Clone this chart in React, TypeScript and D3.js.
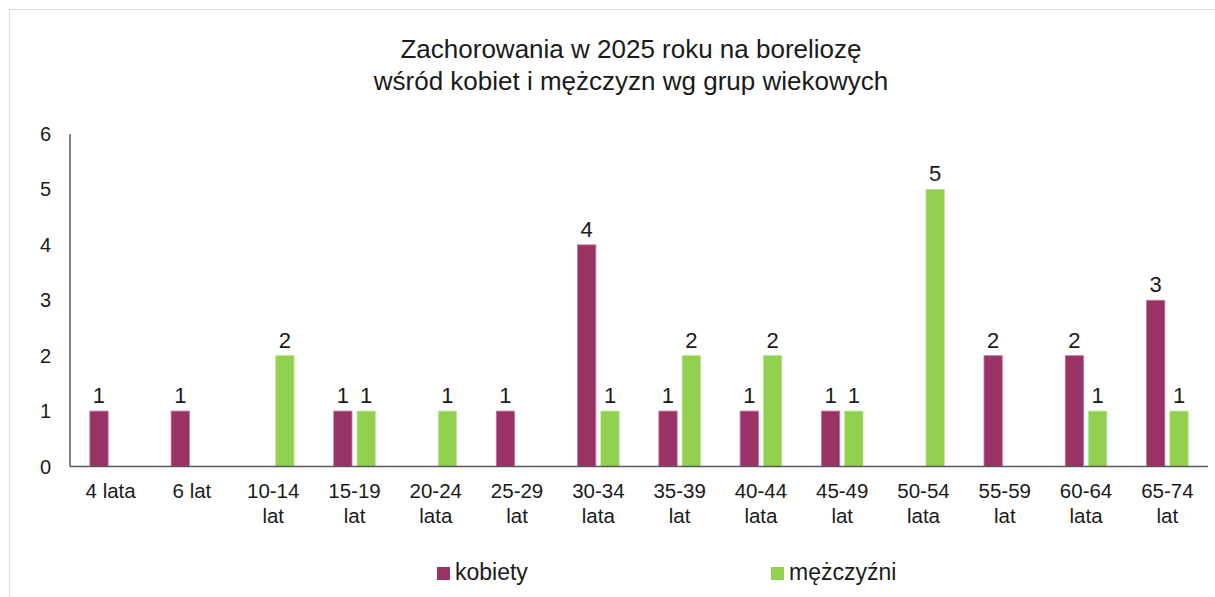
import React from "react";
import * as d3 from "d3";

const categories: string[][] = [
  ["4 lata"], ["6 lat"], ["10-14", "lat"], ["15-19", "lat"], ["20-24", "lata"], ["25-29", "lat"],
  ["30-34", "lata"], ["35-39", "lat"], ["40-44", "lata"], ["45-49", "lat"], ["50-54", "lata"],
  ["55-59", "lat"], ["60-64", "lata"], ["65-74", "lat"],
];
const kobiety: (number | null)[] = [1, 1, null, 1, null, 1, 4, 1, 1, 1, null, 2, 2, 3];
const mezczyzni: (number | null)[] = [null, null, 2, 1, 1, null, 1, 2, 2, 1, 5, null, 1, 1];
const yTicks = [0, 1, 2, 3, 4, 5, 6];
const seriesNames = ["kobiety", "mężczyźni"];
const colors = ["#993366", "#92D050"];

const W = 1215, H = 597;
const plot = { left: 70, right: 1208, top: 134, bottom: 466.5 };
const FONT = "'Liberation Sans', Arial, sans-serif";

export default function App() {
  const x = d3.scaleBand<number>().domain(d3.range(categories.length)).range([plot.left, plot.right]);
  const y = d3.scaleLinear().domain([0, 6]).range([plot.bottom, plot.top]);
  const barW = 18.3;
  const gap = 5;
  const series = [kobiety, mezczyzni];

  return (
    <div style={{ position: "absolute", left: 0, top: 0 }}>
      <svg width={W} height={H} style={{ display: "block", fontFamily: FONT }}>
        <rect x={0} y={0} width={W} height={H} fill="#fff" />
        <rect x={9.5} y={9.5} width={W + 20} height={H + 20} fill="none" stroke="#d9d9d9" strokeWidth={1} />
        <text x={631} y={58} textAnchor="middle" fontSize={26} fill="#1a1a1a">Zachorowania w 2025 roku na boreliozę</text>
        <text x={631} y={90} textAnchor="middle" fontSize={26} fill="#1a1a1a">wśród kobiet i mężczyzn wg grup wiekowych</text>

        {yTicks.map((t) => (
          <text key={t} x={51} y={y(t) + 7} textAnchor="end" fontSize={20} fill="#1a1a1a">{t}</text>
        ))}

        {series.map((vals, si) =>
          vals.map((v, i) => {
            if (v == null) return null;
            const cx = x(i)! + x.bandwidth() / 2;
            const bx = si === 0 ? cx - gap / 2 - barW : cx + gap / 2;
            return (
              <g key={`${si}-${i}`}>
                <rect x={bx} y={y(v)} width={barW} height={y(0) - y(v)} fill={colors[si]}
                  stroke={si === 0 ? "#c17a9c" : "#b8e38e"} strokeWidth={0.8} />
                <text x={bx + barW / 2} y={y(v) - 8} textAnchor="middle" fontSize={22} fill="#1a1a1a">{v}</text>
              </g>
            );
          })
        )}

        <line x1={plot.left} x2={plot.left} y1={plot.top} y2={plot.bottom} stroke="#595959" strokeWidth={1.5} />
        <line x1={plot.left} x2={plot.right} y1={plot.bottom} y2={plot.bottom} stroke="#595959" strokeWidth={1.5} />

        {categories.map((lines, i) => (
          <text key={i} x={x(i)! + x.bandwidth() / 2} y={498} textAnchor="middle" fontSize={20.5} fill="#1a1a1a">
            {lines.map((l, j) => (
              <tspan key={j} x={x(i)! + x.bandwidth() / 2} dy={j === 0 ? 0 : 25}>{l}</tspan>
            ))}
          </text>
        ))}

        {seriesNames.map((n, i) => {
          const lx = i === 0 ? 437 : 771;
          return (
            <g key={n}>
              <rect x={lx} y={567} width={13} height={13} fill={colors[i]} />
              <text x={lx + 18} y={580} fontSize={23} fill="#1a1a1a">{n}</text>
            </g>
          );
        })}
      </svg>
    </div>
  );
}
